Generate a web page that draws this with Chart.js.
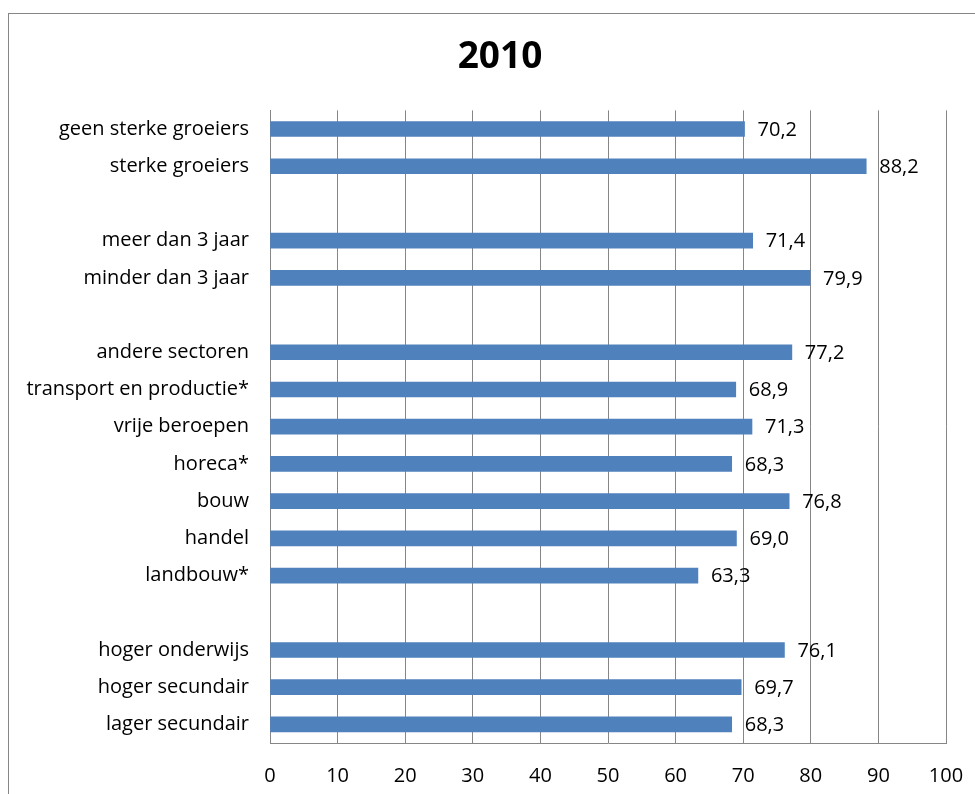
<!DOCTYPE html>
<html>
<head>
<meta charset="utf-8">
<script src="https://cdn.jsdelivr.net/npm/chart.js@4"></script>
<style>
  body { margin: 0; background: #fff; }
  #wrap { width: 975px; height: 794px; }
</style>
</head>
<body>
<div id="wrap"><canvas id="myChart" width="975" height="794"></canvas></div>
<script>
// categories top to bottom, '' = empty row between groups
var categories = [
  "geen sterke groeiers", "sterke groeiers", "",
  "meer dan 3 jaar", "minder dan 3 jaar", "",
  "andere sectoren", "transport en productie*", "vrije beroepen", "horeca*",
  "bouw", "handel", "landbouw*", "",
  "hoger onderwijs", "hoger secundair", "lager secundair"
];
var values = [
  70.2, 88.2, null,
  71.4, 79.9, null,
  77.2, 68.9, 71.3, 68.3,
  76.8, 69.0, 63.3, null,
  76.1, 69.7, 68.3
];
var xTicks = [0, 10, 20, 30, 40, 50, 60, 70, 80, 90, 100];

var FONT = "'Open Sans', sans-serif";
var gridColor = "#868686";

// outer frame like the excel chart area, and nudge the title a bit right
var framePlugin = {
  id: "frame",
  afterLayout: function (chart) {
    if (chart.titleBlock) chart.titleBlock.left = 54;
  },
  beforeDraw: function (chart) {
    var ctx = chart.ctx;
    ctx.save();
    ctx.fillStyle = "#fff";
    ctx.fillRect(0, 0, chart.width, chart.height);
    ctx.strokeStyle = gridColor;
    ctx.lineWidth = 1;
    ctx.strokeRect(8.5, 13.5, chart.width + 10, chart.height + 10);
    ctx.restore();
  }
};

// value labels to the right of each bar
var valueLabels = {
  id: "valueLabels",
  afterDatasetsDraw: function (chart) {
    var ctx = chart.ctx;
    var meta = chart.getDatasetMeta(0);
    ctx.save();
    ctx.font = "20px " + FONT;
    ctx.fillStyle = "#000";
    ctx.textAlign = "left";
    ctx.textBaseline = "middle";
    meta.data.forEach(function (bar, i) {
      var v = values[i];
      if (v === null) return;
      ctx.fillText(v.toFixed(1).replace(".", ","), bar.x + 13, bar.y + 1);
    });
    ctx.restore();
  }
};

var ctx = document.getElementById("myChart").getContext("2d");
var myChart = new Chart(ctx, {
  type: "bar",
  data: {
    labels: categories,
    datasets: [{
      data: values,
      backgroundColor: "#4F81BD",
      borderWidth: 0,
      barThickness: 15
    }]
  },
  options: {
    indexAxis: "y",
    responsive: false,
    animation: false,
    layout: { padding: { left: 0, right: 29, top: 0, bottom: 0 } },
    plugins: {
      legend: { display: false },
      tooltip: { enabled: false },
      title: {
        display: true,
        text: "2010",
        color: "#000",
        font: { family: FONT, size: 37, weight: "bold" },
        padding: { top: 35, bottom: 31 }
      }
    },
    scales: {
      x: {
        min: 0,
        max: 100,
        afterBuildTicks: function (s) {
          s.ticks = xTicks.map(function (v) { return { value: v }; });
        },
        afterFit: function (s) {
          s.height = 51;
          s.paddingLeft = 0;
          s.paddingRight = 0;
        },
        grid: { color: gridColor, lineWidth: 1, drawTicks: false },
        border: { display: true, color: gridColor, width: 1 },
        ticks: {
          color: "#000",
          padding: 21,
          maxRotation: 0,
          font: { family: FONT, size: 20 }
        }
      },
      y: {
        afterFit: function (s) { s.width = 270; },
        grid: { display: false, drawTicks: false },
        border: { display: true, color: gridColor, width: 1 },
        ticks: {
          color: "#000",
          padding: 21,
          autoSkip: false,
          font: { family: FONT, size: 20 }
        }
      }
    }
  },
  plugins: [framePlugin, valueLabels]
});
</script>
</body>
</html>
